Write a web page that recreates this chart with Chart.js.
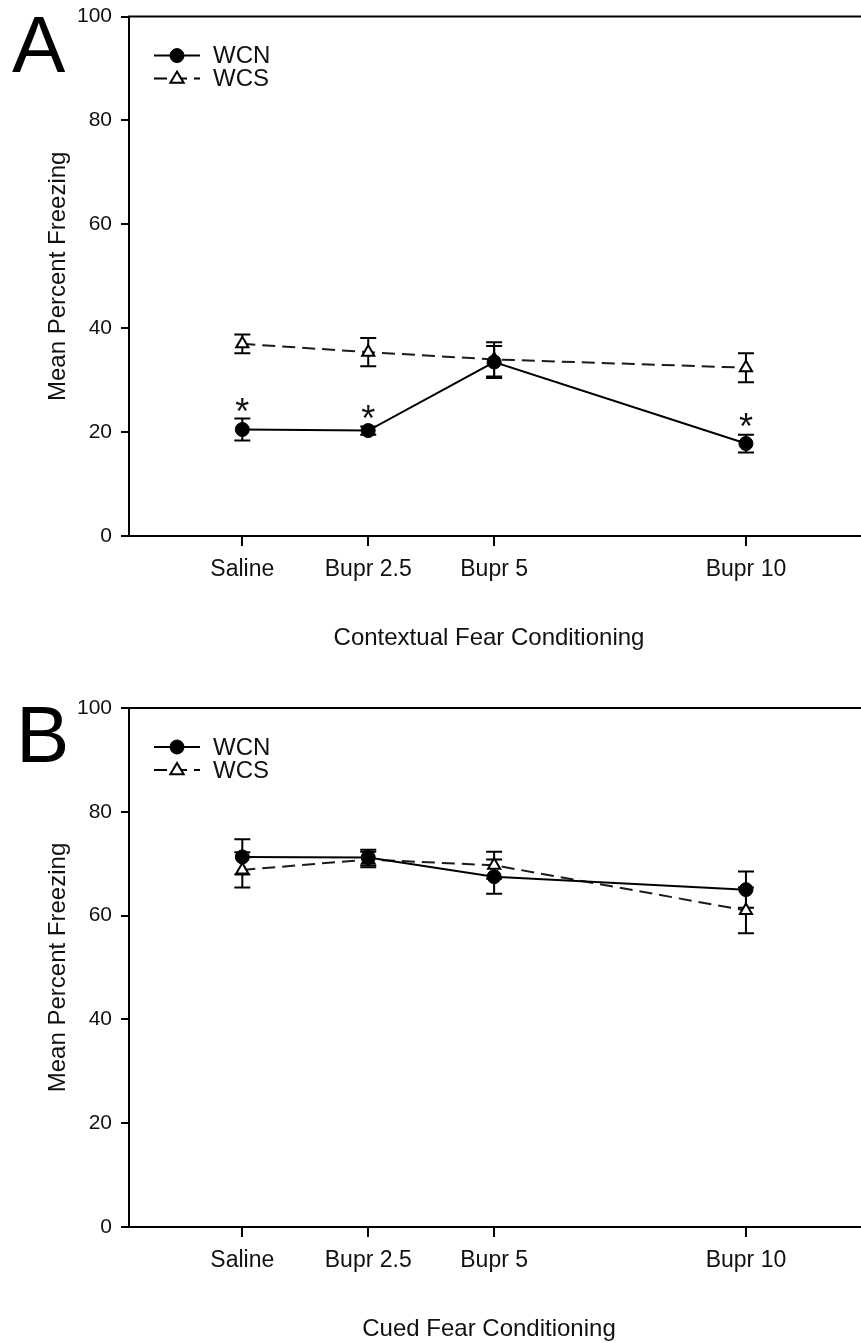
<!DOCTYPE html>
<html>
<head>
<meta charset="utf-8">
<script src="https://cdn.jsdelivr.net/npm/chart.js@4.4.0/dist/chart.umd.min.js"></script>
<style>
  body { margin: 0; background: #fff; }
  #page { position: relative; width: 861px; height: 1343px; overflow: hidden; }
  .panel { position: absolute; left: 0; width: 900px; }
</style>
</head>
<body>
<div id="page">
  <div class="panel" style="top:-5px;height:677px"><canvas id="chartA"></canvas></div>
  <div class="panel" style="top:672px;height:671px"><canvas id="chartB"></canvas></div>
</div>
<script>
// Categories and their position on the dose axis
const doseLabels = ['Saline', 'Bupr 2.5', 'Bupr 5', 'Bupr 10'];
const doses = [0, 2.5, 5, 10];
const yTicks = [0, 20, 40, 60, 80, 100];

// Panel A - contextual fear conditioning
const wcnContext = [20.5, 20.3, 33.5, 17.8];
const wcnContextErr = [2.1, 0.8, 3.1, 1.7];
const wcsContext = [37.0, 35.4, 34.0, 32.4];
const wcsContextErr = [1.8, 2.7, 3.3, 2.8];
const starDoses = [0, 2.5, 10];
const starValues = [25.7, 24.3, 22.8];

// Panel B - cued fear conditioning
const wcnCued = [71.3, 71.2, 67.5, 65.0];
const wcnCuedErr = [3.4, 1.5, 3.3, 3.5];
const wcsCued = [68.8, 70.8, 69.7, 61.0];
const wcsCuedErr = [3.4, 1.5, 2.6, 4.4];

const FONT = "'Liberation Sans', Arial, sans-serif";
const INK = '#111';

// Draws error bars, asterisks, legend, x title, the top frame line and the panel letter
const panelExtras = {
  id: 'panelExtras',
  beforeDatasetsDraw(chart) {
    const ctx = chart.ctx;
    const xs = chart.scales.x, ys = chart.scales.y;
    ctx.save();
    ctx.strokeStyle = '#000';
    ctx.lineWidth = 2;
    chart.data.datasets.forEach(ds => {
      ds.data.forEach((p, i) => {
        const e = ds.errors[i];
        const px = xs.getPixelForValue(p.x);
        const top = ys.getPixelForValue(p.y + e);
        const bot = ys.getPixelForValue(p.y - e);
        ctx.beginPath();
        ctx.moveTo(px, top); ctx.lineTo(px, bot);
        ctx.moveTo(px - 8, top); ctx.lineTo(px + 8, top);
        ctx.moveTo(px - 8, bot); ctx.lineTo(px + 8, bot);
        ctx.stroke();
      });
    });
    ctx.restore();
  },
  afterDraw(chart, args, opts) {
    const ctx = chart.ctx;
    const area = chart.chartArea;
    const xs = chart.scales.x, ys = chart.scales.y;
    ctx.save();

    // top frame
    ctx.strokeStyle = '#000';
    ctx.lineWidth = 2;
    ctx.beginPath();
    ctx.moveTo(area.left - 1, area.top);
    ctx.lineTo(area.right, area.top);
    ctx.stroke();

    // x axis title (centred on the visible part of the axis)
    ctx.fillStyle = INK;
    ctx.font = '24px ' + FONT;
    ctx.textAlign = 'center';
    ctx.textBaseline = 'middle';
    ctx.fillText(opts.xTitle, 489, area.bottom + 102);

    // asterisks
    ctx.font = '36px ' + FONT;
    ctx.textBaseline = 'alphabetic';
    (opts.starX || []).forEach((d, i) => {
      ctx.fillText('*', xs.getPixelForValue(d), ys.getPixelForValue(opts.starY[i]) + 21);
    });

    // legend
    chart.data.datasets.forEach((ds, i) => {
      const y = area.top + 39 + i * 23;
      ctx.strokeStyle = '#000';
      ctx.lineWidth = 2;
      ctx.setLineDash(ds.borderDash || []);
      ctx.beginPath();
      ctx.moveTo(154, y); ctx.lineTo(200, y);
      ctx.stroke();
      ctx.setLineDash([]);
      drawMarker(ctx, ds, 177, y);
      ctx.fillStyle = INK;
      ctx.font = '24px ' + FONT;
      ctx.textAlign = 'left';
      ctx.textBaseline = 'middle';
      ctx.fillText(ds.label, 213, y + 1);
    });

    // panel letter
    ctx.fillStyle = '#000';
    ctx.font = '80px ' + FONT;
    ctx.textAlign = 'left';
    ctx.textBaseline = 'alphabetic';
    ctx.fillText(opts.letter, opts.letterX, opts.letterY);
    ctx.restore();
  }
};

function drawMarker(ctx, ds, x, y) {
  const r = ds.pointRadius;
  ctx.fillStyle = ds.pointBackgroundColor;
  ctx.strokeStyle = ds.pointBorderColor;
  ctx.lineWidth = ds.pointBorderWidth;
  ctx.beginPath();
  if (ds.pointStyle === 'triangle') {
    ctx.moveTo(x, y - r);
    ctx.lineTo(x + r * 0.95, y + r * 0.6);
    ctx.lineTo(x - r * 0.95, y + r * 0.6);
    ctx.closePath();
  } else {
    ctx.arc(x, y, r, 0, Math.PI * 2);
  }
  ctx.fill();
  ctx.stroke();
}

function toPoints(values) {
  return doses.map((d, i) => ({ x: d, y: values[i] }));
}

function makePanel(id, cfg) {
  return new Chart(document.getElementById(id), {
    type: 'line',
    data: {
      datasets: [
        {
          label: 'WCN',
          data: toPoints(cfg.wcn),
          errors: cfg.wcnErr,
          borderColor: '#000',
          borderWidth: 2,
          pointStyle: 'circle',
          pointRadius: 7,
          pointBackgroundColor: '#000',
          pointBorderColor: '#000',
          pointBorderWidth: 1,
          tension: 0
        },
        {
          label: 'WCS',
          data: toPoints(cfg.wcs),
          errors: cfg.wcsErr,
          borderColor: '#1a1a1a',
          borderWidth: 2,
          borderDash: [13, 7],
          pointStyle: 'triangle',
          pointRadius: 7,
          pointBackgroundColor: '#fff',
          pointBorderColor: '#000',
          pointBorderWidth: 2,
          tension: 0
        }
      ]
    },
    options: {
      responsive: true,
      maintainAspectRatio: false,
      animation: false,
      layout: { padding: { top: cfg.padTop, bottom: cfg.padBottom, left: 0, right: 0 } },
      plugins: {
        legend: { display: false },
        tooltip: { enabled: false },
        panelExtras: {
          letter: cfg.letter,
          letterX: cfg.letterX,
          letterY: cfg.letterY,
          xTitle: cfg.xTitle,
          starX: cfg.starX,
          starY: cfg.starY
        }
      },
      scales: {
        x: {
          type: 'linear',
          min: -2.25,
          max: 12.88,
          afterBuildTicks: s => { s.ticks = doses.map(v => ({ value: v })); },
          afterFit: s => { s.height = 116; },
          ticks: {
            callback: v => doseLabels[doses.indexOf(v)],
            autoSkip: false,
            maxRotation: 0,
            color: INK,
            padding: 10,
            font: { family: FONT, size: 23 }
          },
          grid: { drawOnChartArea: false, tickLength: 10, color: '#000', lineWidth: 2 },
          border: { color: '#000', width: 2 },
          title: { display: false }
        },
        y: {
          min: 0,
          max: 100,
          afterBuildTicks: s => { s.ticks = yTicks.map(v => ({ value: v })); },
          afterFit: s => { s.width = 129; },
          ticks: { color: INK, padding: 9, font: { family: FONT, size: 21 } },
          grid: { drawOnChartArea: false, tickLength: 8, color: '#000', lineWidth: 2 },
          border: { color: '#000', width: 2 },
          title: {
            display: true,
            text: 'Mean Percent Freezing',
            color: INK,
            padding: { top: 44, bottom: 0 },
            font: { family: FONT, size: 24 }
          }
        }
      }
    },
    plugins: [panelExtras]
  });
}

makePanel('chartA', {
  wcn: wcnContext, wcnErr: wcnContextErr,
  wcs: wcsContext, wcsErr: wcsContextErr,
  starX: starDoses, starY: starValues,
  xTitle: 'Contextual Fear Conditioning',
  letter: 'A', letterX: 12, letterY: 77,
  padTop: 16, padBottom: 20
});

makePanel('chartB', {
  wcn: wcnCued, wcnErr: wcnCuedErr,
  wcs: wcsCued, wcsErr: wcsCuedErr,
  starX: [], starY: [],
  xTitle: 'Cued Fear Conditioning',
  letter: 'B', letterX: 16, letterY: 90,
  padTop: 36, padBottom: 0
});
</script>
</body>
</html>
